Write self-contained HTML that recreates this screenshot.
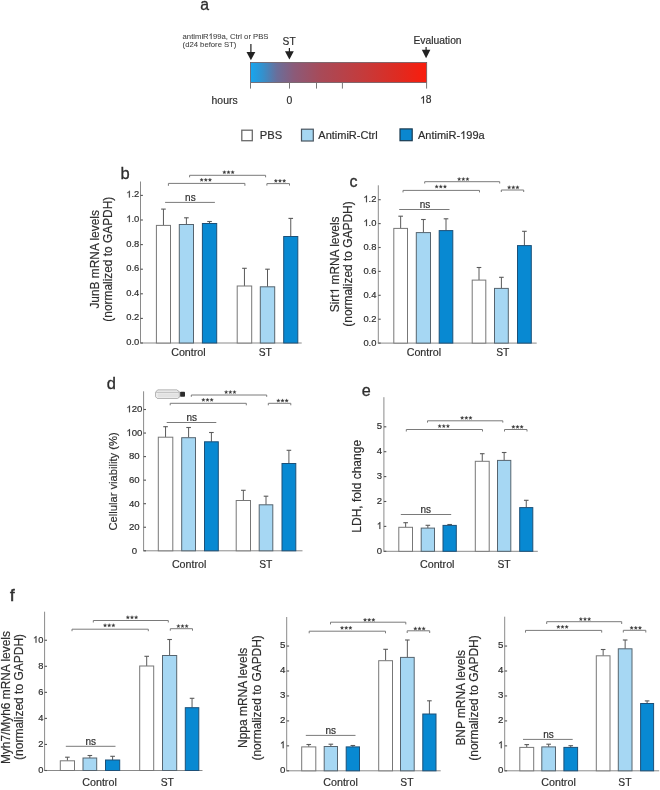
<!DOCTYPE html>
<html><head><meta charset="utf-8"><style>
html,body{margin:0;padding:0;background:#fff;}
svg{display:block;font-family:"Liberation Sans",sans-serif;filter:blur(0.3px);}
</style></head><body>
<svg width="660" height="790" viewBox="0 0 660 790">
<rect width="660" height="790" fill="#fff"/>
<text x="200.20" y="9.85" text-anchor="start" stroke="#2e2e2e" stroke-width="0.3" font-size="15.8" fill="#2e2e2e">a</text>
<g><text id="k1" class="fx" x="182.60" y="39.10" text-anchor="start" stroke="#404040" stroke-width="0.06" font-size="7.7" fill="#404040">antimiR 99a, Ctrl or PBS</text><path transform="translate(208.647,39.100) scale(0.003760,-0.003760)" d="M763 0H583V1147Q518 1085 412.5 1023T223 930V1104Q374 1175 487 1276T647 1472H763V0Z" fill="#404040" stroke="#404040" stroke-width="47.9"/></g>
<text x="182.60" y="47.10" text-anchor="start" stroke="#404040" stroke-width="0.06" font-size="7.7" fill="#404040">(d24 before ST)</text>
<text x="282.60" y="44.60" text-anchor="start" stroke="#2e2e2e" stroke-width="0.18" font-size="10.2" fill="#2e2e2e">ST</text>
<text x="413.50" y="43.80" text-anchor="start" stroke="#2e2e2e" stroke-width="0.18" font-size="10.3" fill="#2e2e2e">Evaluation</text>
<defs><linearGradient id="g" x1="0" x2="1" y1="0" y2="0"><stop offset="0" stop-color="#16a6f0"/><stop offset="0.07" stop-color="#3590cc"/><stop offset="0.15" stop-color="#6a6e9a"/><stop offset="0.25" stop-color="#8c5a78"/><stop offset="0.4" stop-color="#a84a58"/><stop offset="0.65" stop-color="#c63a3a"/><stop offset="0.85" stop-color="#e02a20"/><stop offset="1" stop-color="#fa1c0c"/></linearGradient></defs>
<rect x="250.5" y="62.5" width="176.2" height="20" fill="url(#g)" stroke="#6a5a60" stroke-width="0.8"/>
<line x1="250.90" y1="44.00" x2="250.90" y2="53.00" stroke="#222" stroke-width="1.2"/>
<path d="M246.50,52.00L255.30,52.00L250.90,60.30Z" fill="#222"/>
<line x1="289.40" y1="48.00" x2="289.40" y2="52.20" stroke="#222" stroke-width="1.2"/>
<path d="M285.00,51.20L293.80,51.20L289.40,59.40Z" fill="#222"/>
<line x1="426.10" y1="47.00" x2="426.10" y2="50.80" stroke="#222" stroke-width="1.2"/>
<path d="M421.80,49.80L430.40,49.80L426.10,58.30Z" fill="#222"/>
<line x1="250.50" y1="82.70" x2="250.50" y2="88.60" stroke="#777" stroke-width="1"/>
<line x1="289.50" y1="82.70" x2="289.50" y2="88.60" stroke="#777" stroke-width="1"/>
<line x1="316.50" y1="82.70" x2="316.50" y2="88.60" stroke="#777" stroke-width="1"/>
<line x1="342.40" y1="82.70" x2="342.40" y2="88.60" stroke="#777" stroke-width="1"/>
<line x1="426.60" y1="82.70" x2="426.60" y2="88.60" stroke="#777" stroke-width="1"/>
<text x="211.60" y="103.50" text-anchor="start" stroke="#2e2e2e" stroke-width="0.18" font-size="10.4" fill="#2e2e2e">hours</text>
<text x="286.50" y="104.00" text-anchor="start" stroke="#2e2e2e" stroke-width="0.18" font-size="10.4" fill="#2e2e2e">0</text>
<g><text id="k2" class="fx" x="420.10" y="103.40" text-anchor="start" stroke="#2e2e2e" stroke-width="0.18" font-size="10.3" fill="#2e2e2e"> 8</text><path transform="translate(420.100,103.400) scale(0.005029,-0.005029)" d="M763 0H583V1147Q518 1085 412.5 1023T223 930V1104Q374 1175 487 1276T647 1472H763V0Z" fill="#2e2e2e" stroke="#2e2e2e" stroke-width="35.8"/></g>
<rect x="241.8" y="130.2" width="10.5" height="10.5" fill="#fff" stroke="#6a6a6a" stroke-width="1.3"/>
<text x="259.80" y="138.90" text-anchor="start" stroke="#2e2e2e" stroke-width="0.18" font-size="11.2" fill="#2e2e2e">PBS</text>
<rect x="301.5" y="129.2" width="11.8" height="11.8" fill="#a6d7f2" stroke="#4a5560" stroke-width="1.2"/>
<text x="318.30" y="138.90" text-anchor="start" stroke="#2e2e2e" stroke-width="0.18" font-size="11.0" fill="#2e2e2e">AntimiR-Ctrl</text>
<rect x="400.0" y="128.9" width="12.2" height="11.8" fill="#0a87cf" stroke="#1a3a50" stroke-width="1.2"/>
<g><text id="k3" class="fx" x="418.00" y="138.90" text-anchor="start" stroke="#2e2e2e" stroke-width="0.18" font-size="11.0" fill="#2e2e2e">AntimiR- 99a</text><path transform="translate(460.156,138.900) scale(0.005371,-0.005371)" d="M763 0H583V1147Q518 1085 412.5 1023T223 930V1104Q374 1175 487 1276T647 1472H763V0Z" fill="#2e2e2e" stroke="#2e2e2e" stroke-width="33.5"/></g>
<line x1="140.50" y1="181.50" x2="140.50" y2="343.00" stroke="#8a8a8a" stroke-width="1"/>
<line x1="140.00" y1="343.00" x2="301.70" y2="343.00" stroke="#8a8a8a" stroke-width="1"/>
<line x1="140.50" y1="343.00" x2="142.90" y2="343.00" stroke="#555555" stroke-width="1.1"/>
<text transform="translate(139.30,345.09) scale(1.0,1)" x="0" y="0" text-anchor="end" stroke="#2e2e2e" stroke-width="0.18" font-size="9.4" fill="#2e2e2e">0.0</text>
<line x1="140.50" y1="318.40" x2="142.90" y2="318.40" stroke="#555555" stroke-width="1.1"/>
<text transform="translate(139.30,320.49) scale(1.0,1)" x="0" y="0" text-anchor="end" stroke="#2e2e2e" stroke-width="0.18" font-size="9.4" fill="#2e2e2e">0.2</text>
<line x1="140.50" y1="293.80" x2="142.90" y2="293.80" stroke="#555555" stroke-width="1.1"/>
<text transform="translate(139.30,295.89) scale(1.0,1)" x="0" y="0" text-anchor="end" stroke="#2e2e2e" stroke-width="0.18" font-size="9.4" fill="#2e2e2e">0.4</text>
<line x1="140.50" y1="269.20" x2="142.90" y2="269.20" stroke="#555555" stroke-width="1.1"/>
<text transform="translate(139.30,271.29) scale(1.0,1)" x="0" y="0" text-anchor="end" stroke="#2e2e2e" stroke-width="0.18" font-size="9.4" fill="#2e2e2e">0.6</text>
<line x1="140.50" y1="244.60" x2="142.90" y2="244.60" stroke="#555555" stroke-width="1.1"/>
<text transform="translate(139.30,246.69) scale(1.0,1)" x="0" y="0" text-anchor="end" stroke="#2e2e2e" stroke-width="0.18" font-size="9.4" fill="#2e2e2e">0.8</text>
<line x1="140.50" y1="220.00" x2="142.90" y2="220.00" stroke="#555555" stroke-width="1.1"/>
<g transform="translate(139.30,222.09) scale(1.0,1)"><text id="k4" class="fx" x="0" y="0" text-anchor="end" stroke="#2e2e2e" stroke-width="0.18" font-size="9.4" fill="#2e2e2e"> .0</text><path transform="translate(-13.047,0.000) scale(0.004590,-0.004590)" d="M763 0H583V1147Q518 1085 412.5 1023T223 930V1104Q374 1175 487 1276T647 1472H763V0Z" fill="#2e2e2e" stroke="#2e2e2e" stroke-width="39.2"/></g>
<line x1="140.50" y1="195.40" x2="142.90" y2="195.40" stroke="#555555" stroke-width="1.1"/>
<g transform="translate(139.30,197.49) scale(1.0,1)"><text id="k5" class="fx" x="0" y="0" text-anchor="end" stroke="#2e2e2e" stroke-width="0.18" font-size="9.4" fill="#2e2e2e"> .2</text><path transform="translate(-13.047,0.000) scale(0.004590,-0.004590)" d="M763 0H583V1147Q518 1085 412.5 1023T223 930V1104Q374 1175 487 1276T647 1472H763V0Z" fill="#2e2e2e" stroke="#2e2e2e" stroke-width="39.2"/></g>
<line x1="163.45" y1="225.40" x2="163.45" y2="209.10" stroke="#5a5a5a" stroke-width="1"/>
<line x1="161.15" y1="209.10" x2="165.75" y2="209.10" stroke="#5a5a5a" stroke-width="1.1"/>
<rect x="156.40" y="225.40" width="14.10" height="117.60" fill="#ffffff" stroke="#777777" stroke-width="1"/>
<line x1="186.40" y1="224.50" x2="186.40" y2="217.80" stroke="#5a5a5a" stroke-width="1"/>
<line x1="184.10" y1="217.80" x2="188.70" y2="217.80" stroke="#5a5a5a" stroke-width="1.1"/>
<rect x="179.30" y="224.50" width="14.20" height="118.50" fill="#a6d7f3" stroke="#56646f" stroke-width="1"/>
<line x1="209.55" y1="223.50" x2="209.55" y2="221.50" stroke="#5a5a5a" stroke-width="1"/>
<line x1="207.25" y1="221.50" x2="211.85" y2="221.50" stroke="#5a5a5a" stroke-width="1.1"/>
<rect x="202.40" y="223.50" width="14.30" height="119.50" fill="#0889d2" stroke="#1c5078" stroke-width="1"/>
<line x1="244.45" y1="286.00" x2="244.45" y2="268.30" stroke="#5a5a5a" stroke-width="1"/>
<line x1="242.15" y1="268.30" x2="246.75" y2="268.30" stroke="#5a5a5a" stroke-width="1.1"/>
<rect x="237.20" y="286.00" width="14.50" height="57.00" fill="#ffffff" stroke="#777777" stroke-width="1"/>
<line x1="267.50" y1="286.80" x2="267.50" y2="269.20" stroke="#5a5a5a" stroke-width="1"/>
<line x1="265.20" y1="269.20" x2="269.80" y2="269.20" stroke="#5a5a5a" stroke-width="1.1"/>
<rect x="260.30" y="286.80" width="14.40" height="56.20" fill="#a6d7f3" stroke="#56646f" stroke-width="1"/>
<line x1="290.75" y1="236.50" x2="290.75" y2="218.40" stroke="#5a5a5a" stroke-width="1"/>
<line x1="288.45" y1="218.40" x2="293.05" y2="218.40" stroke="#5a5a5a" stroke-width="1.1"/>
<rect x="283.70" y="236.50" width="14.10" height="106.50" fill="#0889d2" stroke="#1c5078" stroke-width="1"/>
<path d="M189.60,177.30V175.30H265.60V177.30" fill="none" stroke="#7a7a7a" stroke-width="1"/>
<path d="M224.35,170.40L224.87,171.59L226.16,171.71L225.19,172.57L225.47,173.84L224.35,173.18L223.23,173.84L223.51,172.57L222.54,171.71L223.83,171.59ZM228.50,170.40L229.02,171.59L230.31,171.71L229.34,172.57L229.62,173.84L228.50,173.18L227.38,173.84L227.66,172.57L226.69,171.71L227.98,171.59ZM232.65,170.40L233.17,171.59L234.46,171.71L233.49,172.57L233.77,173.84L232.65,173.18L231.53,173.84L231.81,172.57L230.84,171.71L232.13,171.59Z" fill="#3a3a3a" stroke="#3a3a3a" stroke-width="0.2" stroke-linejoin="round"/>
<path d="M168.40,185.80V183.40H244.90V185.80" fill="none" stroke="#7a7a7a" stroke-width="1"/>
<path d="M201.65,178.00L202.17,179.19L203.46,179.31L202.49,180.17L202.77,181.44L201.65,180.78L200.53,181.44L200.81,180.17L199.84,179.31L201.13,179.19ZM205.80,178.00L206.32,179.19L207.61,179.31L206.64,180.17L206.92,181.44L205.80,180.78L204.68,181.44L204.96,180.17L203.99,179.31L205.28,179.19ZM209.95,178.00L210.47,179.19L211.76,179.31L210.79,180.17L211.07,181.44L209.95,180.78L208.83,181.44L209.11,180.17L208.14,179.31L209.43,179.19Z" fill="#3a3a3a" stroke="#3a3a3a" stroke-width="0.2" stroke-linejoin="round"/>
<path d="M266.90,185.60V183.60H289.50V185.60" fill="none" stroke="#7a7a7a" stroke-width="1"/>
<path d="M275.85,179.00L276.37,180.19L277.66,180.31L276.69,181.17L276.97,182.44L275.85,181.78L274.73,182.44L275.01,181.17L274.04,180.31L275.33,180.19ZM280.00,179.00L280.52,180.19L281.81,180.31L280.84,181.17L281.12,182.44L280.00,181.78L278.88,182.44L279.16,181.17L278.19,180.31L279.48,180.19ZM284.15,179.00L284.67,180.19L285.96,180.31L284.99,181.17L285.27,182.44L284.15,181.78L283.03,182.44L283.31,181.17L282.34,180.31L283.63,180.19Z" fill="#3a3a3a" stroke="#3a3a3a" stroke-width="0.2" stroke-linejoin="round"/>
<line x1="165.10" y1="202.40" x2="214.90" y2="202.40" stroke="#7a7a7a" stroke-width="1"/>
<text x="190.40" y="200.70" text-anchor="middle" stroke="#2e2e2e" stroke-width="0.18" font-size="10" fill="#2e2e2e">ns</text>
<text x="171.20" y="355.80" text-anchor="start" stroke="#2e2e2e" stroke-width="0.18" font-size="10.7" fill="#2e2e2e">Control</text>
<text x="258.70" y="355.80" text-anchor="start" stroke="#2e2e2e" stroke-width="0.18" font-size="10.3" fill="#2e2e2e">ST</text>
<text transform="translate(98.80,259.35) rotate(-90)" text-anchor="middle" stroke="#2e2e2e" stroke-width="0.18" font-size="11.9" fill="#2e2e2e">JunB mRNA levels</text>
<text transform="translate(112.30,259.20) rotate(-90)" text-anchor="middle" stroke="#2e2e2e" stroke-width="0.18" font-size="11.9" fill="#2e2e2e">(normalized to GAPDH)</text>
<text x="120.40" y="178.80" text-anchor="start" stroke="#2e2e2e" stroke-width="0.3" font-size="16.5" fill="#2e2e2e">b</text>
<line x1="378.30" y1="185.30" x2="378.30" y2="343.10" stroke="#8a8a8a" stroke-width="1"/>
<line x1="377.80" y1="343.10" x2="536.70" y2="343.10" stroke="#8a8a8a" stroke-width="1"/>
<line x1="378.30" y1="343.10" x2="380.70" y2="343.10" stroke="#555555" stroke-width="1.1"/>
<text transform="translate(376.45,345.59) scale(1.0,1)" x="0" y="0" text-anchor="end" stroke="#2e2e2e" stroke-width="0.18" font-size="9.4" fill="#2e2e2e">0.0</text>
<line x1="378.30" y1="319.20" x2="380.70" y2="319.20" stroke="#555555" stroke-width="1.1"/>
<text transform="translate(376.45,321.69) scale(1.0,1)" x="0" y="0" text-anchor="end" stroke="#2e2e2e" stroke-width="0.18" font-size="9.4" fill="#2e2e2e">0.2</text>
<line x1="378.30" y1="295.30" x2="380.70" y2="295.30" stroke="#555555" stroke-width="1.1"/>
<text transform="translate(376.45,297.79) scale(1.0,1)" x="0" y="0" text-anchor="end" stroke="#2e2e2e" stroke-width="0.18" font-size="9.4" fill="#2e2e2e">0.4</text>
<line x1="378.30" y1="271.40" x2="380.70" y2="271.40" stroke="#555555" stroke-width="1.1"/>
<text transform="translate(376.45,273.89) scale(1.0,1)" x="0" y="0" text-anchor="end" stroke="#2e2e2e" stroke-width="0.18" font-size="9.4" fill="#2e2e2e">0.6</text>
<line x1="378.30" y1="247.50" x2="380.70" y2="247.50" stroke="#555555" stroke-width="1.1"/>
<text transform="translate(376.45,249.99) scale(1.0,1)" x="0" y="0" text-anchor="end" stroke="#2e2e2e" stroke-width="0.18" font-size="9.4" fill="#2e2e2e">0.8</text>
<line x1="378.30" y1="223.60" x2="380.70" y2="223.60" stroke="#555555" stroke-width="1.1"/>
<g transform="translate(376.45,226.09) scale(1.0,1)"><text id="k6" class="fx" x="0" y="0" text-anchor="end" stroke="#2e2e2e" stroke-width="0.18" font-size="9.4" fill="#2e2e2e"> .0</text><path transform="translate(-13.047,0.000) scale(0.004590,-0.004590)" d="M763 0H583V1147Q518 1085 412.5 1023T223 930V1104Q374 1175 487 1276T647 1472H763V0Z" fill="#2e2e2e" stroke="#2e2e2e" stroke-width="39.2"/></g>
<line x1="378.30" y1="199.70" x2="380.70" y2="199.70" stroke="#555555" stroke-width="1.1"/>
<g transform="translate(376.45,202.19) scale(1.0,1)"><text id="k7" class="fx" x="0" y="0" text-anchor="end" stroke="#2e2e2e" stroke-width="0.18" font-size="9.4" fill="#2e2e2e"> .2</text><path transform="translate(-13.047,0.000) scale(0.004590,-0.004590)" d="M763 0H583V1147Q518 1085 412.5 1023T223 930V1104Q374 1175 487 1276T647 1472H763V0Z" fill="#2e2e2e" stroke="#2e2e2e" stroke-width="39.2"/></g>
<line x1="400.65" y1="228.40" x2="400.65" y2="216.20" stroke="#5a5a5a" stroke-width="1"/>
<line x1="398.35" y1="216.20" x2="402.95" y2="216.20" stroke="#5a5a5a" stroke-width="1.1"/>
<rect x="393.80" y="228.40" width="13.70" height="114.70" fill="#ffffff" stroke="#777777" stroke-width="1"/>
<line x1="423.40" y1="232.60" x2="423.40" y2="219.50" stroke="#5a5a5a" stroke-width="1"/>
<line x1="421.10" y1="219.50" x2="425.70" y2="219.50" stroke="#5a5a5a" stroke-width="1.1"/>
<rect x="416.30" y="232.60" width="14.20" height="110.50" fill="#a6d7f3" stroke="#56646f" stroke-width="1"/>
<line x1="446.00" y1="230.60" x2="446.00" y2="218.80" stroke="#5a5a5a" stroke-width="1"/>
<line x1="443.70" y1="218.80" x2="448.30" y2="218.80" stroke="#5a5a5a" stroke-width="1.1"/>
<rect x="439.20" y="230.60" width="13.60" height="112.50" fill="#0889d2" stroke="#1c5078" stroke-width="1"/>
<line x1="479.00" y1="280.10" x2="479.00" y2="267.50" stroke="#5a5a5a" stroke-width="1"/>
<line x1="476.70" y1="267.50" x2="481.30" y2="267.50" stroke="#5a5a5a" stroke-width="1.1"/>
<rect x="472.20" y="280.10" width="13.60" height="63.00" fill="#ffffff" stroke="#777777" stroke-width="1"/>
<line x1="501.40" y1="288.40" x2="501.40" y2="277.30" stroke="#5a5a5a" stroke-width="1"/>
<line x1="499.10" y1="277.30" x2="503.70" y2="277.30" stroke="#5a5a5a" stroke-width="1.1"/>
<rect x="494.50" y="288.40" width="13.80" height="54.70" fill="#a6d7f3" stroke="#56646f" stroke-width="1"/>
<line x1="524.40" y1="245.60" x2="524.40" y2="231.30" stroke="#5a5a5a" stroke-width="1"/>
<line x1="522.10" y1="231.30" x2="526.70" y2="231.30" stroke="#5a5a5a" stroke-width="1.1"/>
<rect x="517.50" y="245.60" width="13.80" height="97.50" fill="#0889d2" stroke="#1c5078" stroke-width="1"/>
<path d="M424.70,183.50V181.70H499.70V183.50" fill="none" stroke="#7a7a7a" stroke-width="1"/>
<path d="M459.15,177.20L459.67,178.39L460.96,178.51L459.99,179.37L460.27,180.64L459.15,179.98L458.03,180.64L458.31,179.37L457.34,178.51L458.63,178.39ZM463.30,177.20L463.82,178.39L465.11,178.51L464.14,179.37L464.42,180.64L463.30,179.98L462.18,180.64L462.46,179.37L461.49,178.51L462.78,178.39ZM467.45,177.20L467.97,178.39L469.26,178.51L468.29,179.37L468.57,180.64L467.45,179.98L466.33,180.64L466.61,179.37L465.64,178.51L466.93,178.39Z" fill="#3a3a3a" stroke="#3a3a3a" stroke-width="0.2" stroke-linejoin="round"/>
<path d="M403.00,192.40V190.40H479.50V192.40" fill="none" stroke="#7a7a7a" stroke-width="1"/>
<path d="M436.65,184.70L437.17,185.89L438.46,186.01L437.49,186.87L437.77,188.14L436.65,187.48L435.53,188.14L435.81,186.87L434.84,186.01L436.13,185.89ZM440.80,184.70L441.32,185.89L442.61,186.01L441.64,186.87L441.92,188.14L440.80,187.48L439.68,188.14L439.96,186.87L438.99,186.01L440.28,185.89ZM444.95,184.70L445.47,185.89L446.76,186.01L445.79,186.87L446.07,188.14L444.95,187.48L443.83,188.14L444.11,186.87L443.14,186.01L444.43,185.89Z" fill="#3a3a3a" stroke="#3a3a3a" stroke-width="0.2" stroke-linejoin="round"/>
<path d="M501.30,192.00V190.00H523.70V192.00" fill="none" stroke="#7a7a7a" stroke-width="1"/>
<path d="M509.15,185.50L509.67,186.69L510.96,186.81L509.99,187.67L510.27,188.94L509.15,188.28L508.03,188.94L508.31,187.67L507.34,186.81L508.63,186.69ZM513.30,185.50L513.82,186.69L515.11,186.81L514.14,187.67L514.42,188.94L513.30,188.28L512.18,188.94L512.46,187.67L511.49,186.81L512.78,186.69ZM517.45,185.50L517.97,186.69L519.26,186.81L518.29,187.67L518.57,188.94L517.45,188.28L516.33,188.94L516.61,187.67L515.64,186.81L516.93,186.69Z" fill="#3a3a3a" stroke="#3a3a3a" stroke-width="0.2" stroke-linejoin="round"/>
<line x1="399.20" y1="209.50" x2="449.50" y2="209.50" stroke="#7a7a7a" stroke-width="1"/>
<text x="425.00" y="207.80" text-anchor="middle" stroke="#2e2e2e" stroke-width="0.18" font-size="10" fill="#2e2e2e">ns</text>
<text x="406.70" y="356.20" text-anchor="start" stroke="#2e2e2e" stroke-width="0.18" font-size="10.7" fill="#2e2e2e">Control</text>
<text x="496.20" y="355.80" text-anchor="start" stroke="#2e2e2e" stroke-width="0.18" font-size="10.3" fill="#2e2e2e">ST</text>
<g transform="translate(338.80,264.35) rotate(-90)"><text id="k8" class="fx" text-anchor="middle" stroke="#2e2e2e" stroke-width="0.18" font-size="11.9" fill="#2e2e2e">Sirt  mRNA levels</text><path transform="translate(-30.078,0.000) scale(0.005811,-0.005811)" d="M763 0H583V1147Q518 1085 412.5 1023T223 930V1104Q374 1175 487 1276T647 1472H763V0Z" fill="#2e2e2e" stroke="#2e2e2e" stroke-width="31.0"/></g>
<text transform="translate(352.20,264.00) rotate(-90)" text-anchor="middle" stroke="#2e2e2e" stroke-width="0.18" font-size="11.95" fill="#2e2e2e">(normalized to GAPDH)</text>
<text x="349.40" y="186.80" text-anchor="start" stroke="#2e2e2e" stroke-width="0.3" font-size="16" fill="#2e2e2e">c</text>
<line x1="143.60" y1="391.30" x2="143.60" y2="550.80" stroke="#8a8a8a" stroke-width="1"/>
<line x1="143.10" y1="550.80" x2="302.50" y2="550.80" stroke="#8a8a8a" stroke-width="1"/>
<line x1="143.60" y1="550.80" x2="146.00" y2="550.80" stroke="#555555" stroke-width="1.1"/>
<text transform="translate(134.30,553.66) scale(1.0,1)" x="0" y="0" text-anchor="middle" stroke="#2e2e2e" stroke-width="0.18" font-size="9.6" fill="#2e2e2e">0</text>
<line x1="143.60" y1="527.25" x2="146.00" y2="527.25" stroke="#555555" stroke-width="1.1"/>
<text transform="translate(134.30,530.11) scale(1.0,1)" x="0" y="0" text-anchor="middle" stroke="#2e2e2e" stroke-width="0.18" font-size="9.6" fill="#2e2e2e">20</text>
<line x1="143.60" y1="503.70" x2="146.00" y2="503.70" stroke="#555555" stroke-width="1.1"/>
<text transform="translate(134.30,506.56) scale(1.0,1)" x="0" y="0" text-anchor="middle" stroke="#2e2e2e" stroke-width="0.18" font-size="9.6" fill="#2e2e2e">40</text>
<line x1="143.60" y1="480.15" x2="146.00" y2="480.15" stroke="#555555" stroke-width="1.1"/>
<text transform="translate(134.30,483.01) scale(1.0,1)" x="0" y="0" text-anchor="middle" stroke="#2e2e2e" stroke-width="0.18" font-size="9.6" fill="#2e2e2e">60</text>
<line x1="143.60" y1="456.60" x2="146.00" y2="456.60" stroke="#555555" stroke-width="1.1"/>
<text transform="translate(134.30,459.46) scale(1.0,1)" x="0" y="0" text-anchor="middle" stroke="#2e2e2e" stroke-width="0.18" font-size="9.6" fill="#2e2e2e">80</text>
<line x1="143.60" y1="433.05" x2="146.00" y2="433.05" stroke="#555555" stroke-width="1.1"/>
<g transform="translate(134.30,435.91) scale(1.0,1)"><text id="k9" class="fx" x="0" y="0" text-anchor="middle" stroke="#2e2e2e" stroke-width="0.18" font-size="9.6" fill="#2e2e2e"> 00</text><path transform="translate(-8.008,0.000) scale(0.004687,-0.004687)" d="M763 0H583V1147Q518 1085 412.5 1023T223 930V1104Q374 1175 487 1276T647 1472H763V0Z" fill="#2e2e2e" stroke="#2e2e2e" stroke-width="38.4"/></g>
<line x1="143.60" y1="409.50" x2="146.00" y2="409.50" stroke="#555555" stroke-width="1.1"/>
<g transform="translate(134.30,412.36) scale(1.0,1)"><text id="k10" class="fx" x="0" y="0" text-anchor="middle" stroke="#2e2e2e" stroke-width="0.18" font-size="9.6" fill="#2e2e2e"> 20</text><path transform="translate(-8.008,0.000) scale(0.004687,-0.004687)" d="M763 0H583V1147Q518 1085 412.5 1023T223 930V1104Q374 1175 487 1276T647 1472H763V0Z" fill="#2e2e2e" stroke="#2e2e2e" stroke-width="38.4"/></g>
<line x1="165.55" y1="437.20" x2="165.55" y2="426.70" stroke="#5a5a5a" stroke-width="1"/>
<line x1="163.25" y1="426.70" x2="167.85" y2="426.70" stroke="#5a5a5a" stroke-width="1.1"/>
<rect x="158.30" y="437.20" width="14.50" height="113.60" fill="#ffffff" stroke="#777777" stroke-width="1"/>
<line x1="188.60" y1="437.70" x2="188.60" y2="427.50" stroke="#5a5a5a" stroke-width="1"/>
<line x1="186.30" y1="427.50" x2="190.90" y2="427.50" stroke="#5a5a5a" stroke-width="1.1"/>
<rect x="181.70" y="437.70" width="13.80" height="113.10" fill="#a6d7f3" stroke="#56646f" stroke-width="1"/>
<line x1="211.40" y1="441.80" x2="211.40" y2="432.50" stroke="#5a5a5a" stroke-width="1"/>
<line x1="209.10" y1="432.50" x2="213.70" y2="432.50" stroke="#5a5a5a" stroke-width="1.1"/>
<rect x="204.50" y="441.80" width="13.80" height="109.00" fill="#0889d2" stroke="#1c5078" stroke-width="1"/>
<line x1="243.35" y1="500.50" x2="243.35" y2="490.30" stroke="#5a5a5a" stroke-width="1"/>
<line x1="241.05" y1="490.30" x2="245.65" y2="490.30" stroke="#5a5a5a" stroke-width="1.1"/>
<rect x="236.20" y="500.50" width="14.30" height="50.30" fill="#ffffff" stroke="#777777" stroke-width="1"/>
<line x1="266.00" y1="504.80" x2="266.00" y2="496.20" stroke="#5a5a5a" stroke-width="1"/>
<line x1="263.70" y1="496.20" x2="268.30" y2="496.20" stroke="#5a5a5a" stroke-width="1.1"/>
<rect x="259.20" y="504.80" width="13.60" height="46.00" fill="#a6d7f3" stroke="#56646f" stroke-width="1"/>
<line x1="288.90" y1="463.50" x2="288.90" y2="450.30" stroke="#5a5a5a" stroke-width="1"/>
<line x1="286.60" y1="450.30" x2="291.20" y2="450.30" stroke="#5a5a5a" stroke-width="1.1"/>
<rect x="282.00" y="463.50" width="13.80" height="87.30" fill="#0889d2" stroke="#1c5078" stroke-width="1"/>
<path d="M191.30,396.80V395.00H266.70V396.80" fill="none" stroke="#7a7a7a" stroke-width="1"/>
<path d="M226.15,390.20L226.67,391.39L227.96,391.51L226.99,392.37L227.27,393.64L226.15,392.98L225.03,393.64L225.31,392.37L224.34,391.51L225.63,391.39ZM230.30,390.20L230.82,391.39L232.11,391.51L231.14,392.37L231.42,393.64L230.30,392.98L229.18,393.64L229.46,392.37L228.49,391.51L229.78,391.39ZM234.45,390.20L234.97,391.39L236.26,391.51L235.29,392.37L235.57,393.64L234.45,392.98L233.33,393.64L233.61,392.37L232.64,391.51L233.93,391.39Z" fill="#3a3a3a" stroke="#3a3a3a" stroke-width="0.2" stroke-linejoin="round"/>
<path d="M170.20,405.30V403.30H246.30V405.30" fill="none" stroke="#7a7a7a" stroke-width="1"/>
<path d="M203.35,398.00L203.87,399.19L205.16,399.31L204.19,400.17L204.47,401.44L203.35,400.78L202.23,401.44L202.51,400.17L201.54,399.31L202.83,399.19ZM207.50,398.00L208.02,399.19L209.31,399.31L208.34,400.17L208.62,401.44L207.50,400.78L206.38,401.44L206.66,400.17L205.69,399.31L206.98,399.19ZM211.65,398.00L212.17,399.19L213.46,399.31L212.49,400.17L212.77,401.44L211.65,400.78L210.53,401.44L210.81,400.17L209.84,399.31L211.13,399.19Z" fill="#3a3a3a" stroke="#3a3a3a" stroke-width="0.2" stroke-linejoin="round"/>
<path d="M268.30,405.30V403.30H290.80V405.30" fill="none" stroke="#7a7a7a" stroke-width="1"/>
<path d="M278.35,398.80L278.87,399.99L280.16,400.11L279.19,400.97L279.47,402.24L278.35,401.58L277.23,402.24L277.51,400.97L276.54,400.11L277.83,399.99ZM282.50,398.80L283.02,399.99L284.31,400.11L283.34,400.97L283.62,402.24L282.50,401.58L281.38,402.24L281.66,400.97L280.69,400.11L281.98,399.99ZM286.65,398.80L287.17,399.99L288.46,400.11L287.49,400.97L287.77,402.24L286.65,401.58L285.53,402.24L285.81,400.97L284.84,400.11L286.13,399.99Z" fill="#3a3a3a" stroke="#3a3a3a" stroke-width="0.2" stroke-linejoin="round"/>
<line x1="166.70" y1="422.50" x2="216.30" y2="422.50" stroke="#7a7a7a" stroke-width="1"/>
<text x="191.70" y="420.80" text-anchor="middle" stroke="#2e2e2e" stroke-width="0.18" font-size="10" fill="#2e2e2e">ns</text>
<text x="171.90" y="567.50" text-anchor="start" stroke="#2e2e2e" stroke-width="0.18" font-size="10.7" fill="#2e2e2e">Control</text>
<text x="259.20" y="567.50" text-anchor="start" stroke="#2e2e2e" stroke-width="0.18" font-size="10.3" fill="#2e2e2e">ST</text>
<text transform="translate(116.60,481.40) rotate(-90)" text-anchor="middle" stroke="#2e2e2e" stroke-width="0.18" font-size="11.2" fill="#2e2e2e">Cellular viability (%)</text>
<text x="106.70" y="388.90" text-anchor="start" stroke="#2e2e2e" stroke-width="0.3" font-size="16.5" fill="#2e2e2e">d</text>
<line x1="383.90" y1="397.20" x2="383.90" y2="551.30" stroke="#8a8a8a" stroke-width="1"/>
<line x1="383.40" y1="551.30" x2="537.80" y2="551.30" stroke="#8a8a8a" stroke-width="1"/>
<line x1="383.90" y1="551.30" x2="386.30" y2="551.30" stroke="#555555" stroke-width="1.1"/>
<text transform="translate(382.05,553.83) scale(1.0,1)" x="0" y="0" text-anchor="end" stroke="#2e2e2e" stroke-width="0.18" font-size="9.5" fill="#2e2e2e">0</text>
<line x1="383.90" y1="526.40" x2="386.30" y2="526.40" stroke="#555555" stroke-width="1.1"/>
<g transform="translate(382.05,528.93) scale(1.0,1)"><text id="k11" class="fx" x="0" y="0" text-anchor="end" stroke="#2e2e2e" stroke-width="0.18" font-size="9.5" fill="#2e2e2e"> </text><path transform="translate(-5.297,0.000) scale(0.004639,-0.004639)" d="M763 0H583V1147Q518 1085 412.5 1023T223 930V1104Q374 1175 487 1276T647 1472H763V0Z" fill="#2e2e2e" stroke="#2e2e2e" stroke-width="38.8"/></g>
<line x1="383.90" y1="501.50" x2="386.30" y2="501.50" stroke="#555555" stroke-width="1.1"/>
<text transform="translate(382.05,504.02) scale(1.0,1)" x="0" y="0" text-anchor="end" stroke="#2e2e2e" stroke-width="0.18" font-size="9.5" fill="#2e2e2e">2</text>
<line x1="383.90" y1="476.60" x2="386.30" y2="476.60" stroke="#555555" stroke-width="1.1"/>
<text transform="translate(382.05,479.12) scale(1.0,1)" x="0" y="0" text-anchor="end" stroke="#2e2e2e" stroke-width="0.18" font-size="9.5" fill="#2e2e2e">3</text>
<line x1="383.90" y1="451.70" x2="386.30" y2="451.70" stroke="#555555" stroke-width="1.1"/>
<text transform="translate(382.05,454.22) scale(1.0,1)" x="0" y="0" text-anchor="end" stroke="#2e2e2e" stroke-width="0.18" font-size="9.5" fill="#2e2e2e">4</text>
<line x1="383.90" y1="426.80" x2="386.30" y2="426.80" stroke="#555555" stroke-width="1.1"/>
<text transform="translate(382.05,429.32) scale(1.0,1)" x="0" y="0" text-anchor="end" stroke="#2e2e2e" stroke-width="0.18" font-size="9.5" fill="#2e2e2e">5</text>
<line x1="405.65" y1="527.30" x2="405.65" y2="522.70" stroke="#5a5a5a" stroke-width="1"/>
<line x1="403.35" y1="522.70" x2="407.95" y2="522.70" stroke="#5a5a5a" stroke-width="1.1"/>
<rect x="398.80" y="527.30" width="13.70" height="24.00" fill="#ffffff" stroke="#777777" stroke-width="1"/>
<line x1="427.85" y1="528.10" x2="427.85" y2="525.30" stroke="#5a5a5a" stroke-width="1"/>
<line x1="425.55" y1="525.30" x2="430.15" y2="525.30" stroke="#5a5a5a" stroke-width="1.1"/>
<rect x="421.20" y="528.10" width="13.30" height="23.20" fill="#a6d7f3" stroke="#56646f" stroke-width="1"/>
<line x1="449.65" y1="525.40" x2="449.65" y2="524.50" stroke="#5a5a5a" stroke-width="1"/>
<line x1="447.35" y1="524.50" x2="451.95" y2="524.50" stroke="#5a5a5a" stroke-width="1.1"/>
<rect x="443.00" y="525.40" width="13.30" height="25.90" fill="#0889d2" stroke="#1c5078" stroke-width="1"/>
<line x1="482.25" y1="461.30" x2="482.25" y2="453.70" stroke="#5a5a5a" stroke-width="1"/>
<line x1="479.95" y1="453.70" x2="484.55" y2="453.70" stroke="#5a5a5a" stroke-width="1.1"/>
<rect x="475.30" y="461.30" width="13.90" height="90.00" fill="#ffffff" stroke="#777777" stroke-width="1"/>
<line x1="504.15" y1="460.40" x2="504.15" y2="452.50" stroke="#5a5a5a" stroke-width="1"/>
<line x1="501.85" y1="452.50" x2="506.45" y2="452.50" stroke="#5a5a5a" stroke-width="1.1"/>
<rect x="497.50" y="460.40" width="13.30" height="90.90" fill="#a6d7f3" stroke="#56646f" stroke-width="1"/>
<line x1="526.25" y1="507.60" x2="526.25" y2="500.30" stroke="#5a5a5a" stroke-width="1"/>
<line x1="523.95" y1="500.30" x2="528.55" y2="500.30" stroke="#5a5a5a" stroke-width="1.1"/>
<rect x="519.70" y="507.60" width="13.10" height="43.70" fill="#0889d2" stroke="#1c5078" stroke-width="1"/>
<path d="M427.50,422.60V420.80H502.80V422.60" fill="none" stroke="#7a7a7a" stroke-width="1"/>
<path d="M462.15,416.00L462.67,417.19L463.96,417.31L462.99,418.17L463.27,419.44L462.15,418.78L461.03,419.44L461.31,418.17L460.34,417.31L461.63,417.19ZM466.30,416.00L466.82,417.19L468.11,417.31L467.14,418.17L467.42,419.44L466.30,418.78L465.18,419.44L465.46,418.17L464.49,417.31L465.78,417.19ZM470.45,416.00L470.97,417.19L472.26,417.31L471.29,418.17L471.57,419.44L470.45,418.78L469.33,419.44L469.61,418.17L468.64,417.31L469.93,417.19Z" fill="#3a3a3a" stroke="#3a3a3a" stroke-width="0.2" stroke-linejoin="round"/>
<path d="M406.30,431.50V429.50H482.50V431.50" fill="none" stroke="#7a7a7a" stroke-width="1"/>
<path d="M439.65,424.20L440.17,425.39L441.46,425.51L440.49,426.37L440.77,427.64L439.65,426.98L438.53,427.64L438.81,426.37L437.84,425.51L439.13,425.39ZM443.80,424.20L444.32,425.39L445.61,425.51L444.64,426.37L444.92,427.64L443.80,426.98L442.68,427.64L442.96,426.37L441.99,425.51L443.28,425.39ZM447.95,424.20L448.47,425.39L449.76,425.51L448.79,426.37L449.07,427.64L447.95,426.98L446.83,427.64L447.11,426.37L446.14,425.51L447.43,425.39Z" fill="#3a3a3a" stroke="#3a3a3a" stroke-width="0.2" stroke-linejoin="round"/>
<path d="M504.50,431.50V429.50H527.00V431.50" fill="none" stroke="#7a7a7a" stroke-width="1"/>
<path d="M513.35,425.00L513.87,426.19L515.16,426.31L514.19,427.17L514.47,428.44L513.35,427.78L512.23,428.44L512.51,427.17L511.54,426.31L512.83,426.19ZM517.50,425.00L518.02,426.19L519.31,426.31L518.34,427.17L518.62,428.44L517.50,427.78L516.38,428.44L516.66,427.17L515.69,426.31L516.98,426.19ZM521.65,425.00L522.17,426.19L523.46,426.31L522.49,427.17L522.77,428.44L521.65,427.78L520.53,428.44L520.81,427.17L519.84,426.31L521.13,426.19Z" fill="#3a3a3a" stroke="#3a3a3a" stroke-width="0.2" stroke-linejoin="round"/>
<line x1="400.80" y1="514.50" x2="451.20" y2="514.50" stroke="#7a7a7a" stroke-width="1"/>
<text x="425.80" y="512.80" text-anchor="middle" stroke="#2e2e2e" stroke-width="0.18" font-size="10" fill="#2e2e2e">ns</text>
<text x="420.00" y="567.50" text-anchor="start" stroke="#2e2e2e" stroke-width="0.18" font-size="10.7" fill="#2e2e2e">Control</text>
<text x="497.50" y="567.50" text-anchor="start" stroke="#2e2e2e" stroke-width="0.18" font-size="10.3" fill="#2e2e2e">ST</text>
<text transform="translate(361.10,486.30) rotate(-90)" text-anchor="middle" stroke="#2e2e2e" stroke-width="0.18" font-size="12.0" fill="#2e2e2e">LDH, fold change</text>
<text x="361.75" y="395.80" text-anchor="start" stroke="#2e2e2e" stroke-width="0.3" font-size="16.2" fill="#2e2e2e">e</text>
<line x1="44.60" y1="611.70" x2="44.60" y2="770.50" stroke="#8a8a8a" stroke-width="1"/>
<line x1="44.10" y1="770.50" x2="202.50" y2="770.50" stroke="#8a8a8a" stroke-width="1"/>
<line x1="44.60" y1="770.50" x2="47.00" y2="770.50" stroke="#555555" stroke-width="1.1"/>
<text transform="translate(43.30,772.96) scale(1.0,1)" x="0" y="0" text-anchor="end" stroke="#2e2e2e" stroke-width="0.18" font-size="9.3" fill="#2e2e2e">0</text>
<line x1="44.60" y1="744.45" x2="47.00" y2="744.45" stroke="#555555" stroke-width="1.1"/>
<text transform="translate(43.30,746.91) scale(1.0,1)" x="0" y="0" text-anchor="end" stroke="#2e2e2e" stroke-width="0.18" font-size="9.3" fill="#2e2e2e">2</text>
<line x1="44.60" y1="718.40" x2="47.00" y2="718.40" stroke="#555555" stroke-width="1.1"/>
<text transform="translate(43.30,720.86) scale(1.0,1)" x="0" y="0" text-anchor="end" stroke="#2e2e2e" stroke-width="0.18" font-size="9.3" fill="#2e2e2e">4</text>
<line x1="44.60" y1="692.35" x2="47.00" y2="692.35" stroke="#555555" stroke-width="1.1"/>
<text transform="translate(43.30,694.81) scale(1.0,1)" x="0" y="0" text-anchor="end" stroke="#2e2e2e" stroke-width="0.18" font-size="9.3" fill="#2e2e2e">6</text>
<line x1="44.60" y1="666.30" x2="47.00" y2="666.30" stroke="#555555" stroke-width="1.1"/>
<text transform="translate(43.30,668.75) scale(1.0,1)" x="0" y="0" text-anchor="end" stroke="#2e2e2e" stroke-width="0.18" font-size="9.3" fill="#2e2e2e">8</text>
<line x1="44.60" y1="640.25" x2="47.00" y2="640.25" stroke="#555555" stroke-width="1.1"/>
<g transform="translate(43.30,642.71) scale(1.0,1)"><text id="k12" class="fx" x="0" y="0" text-anchor="end" stroke="#2e2e2e" stroke-width="0.18" font-size="9.3" fill="#2e2e2e"> 0</text><path transform="translate(-10.344,0.000) scale(0.004541,-0.004541)" d="M763 0H583V1147Q518 1085 412.5 1023T223 930V1104Q374 1175 487 1276T647 1472H763V0Z" fill="#2e2e2e" stroke="#2e2e2e" stroke-width="39.6"/></g>
<line x1="67.40" y1="760.80" x2="67.40" y2="757.20" stroke="#5a5a5a" stroke-width="1"/>
<line x1="65.10" y1="757.20" x2="69.70" y2="757.20" stroke="#5a5a5a" stroke-width="1.1"/>
<rect x="60.30" y="760.80" width="14.20" height="9.70" fill="#ffffff" stroke="#777777" stroke-width="1"/>
<line x1="89.85" y1="758.00" x2="89.85" y2="755.50" stroke="#5a5a5a" stroke-width="1"/>
<line x1="87.55" y1="755.50" x2="92.15" y2="755.50" stroke="#5a5a5a" stroke-width="1.1"/>
<rect x="83.00" y="758.00" width="13.70" height="12.50" fill="#a6d7f3" stroke="#56646f" stroke-width="1"/>
<line x1="112.60" y1="760.00" x2="112.60" y2="756.30" stroke="#5a5a5a" stroke-width="1"/>
<line x1="110.30" y1="756.30" x2="114.90" y2="756.30" stroke="#5a5a5a" stroke-width="1.1"/>
<rect x="105.50" y="760.00" width="14.20" height="10.50" fill="#0889d2" stroke="#1c5078" stroke-width="1"/>
<line x1="146.70" y1="666.00" x2="146.70" y2="656.30" stroke="#5a5a5a" stroke-width="1"/>
<line x1="144.40" y1="656.30" x2="149.00" y2="656.30" stroke="#5a5a5a" stroke-width="1.1"/>
<rect x="139.70" y="666.00" width="14.00" height="104.50" fill="#ffffff" stroke="#777777" stroke-width="1"/>
<line x1="169.60" y1="655.50" x2="169.60" y2="639.50" stroke="#5a5a5a" stroke-width="1"/>
<line x1="167.30" y1="639.50" x2="171.90" y2="639.50" stroke="#5a5a5a" stroke-width="1.1"/>
<rect x="162.50" y="655.50" width="14.20" height="115.00" fill="#a6d7f3" stroke="#56646f" stroke-width="1"/>
<line x1="192.05" y1="707.70" x2="192.05" y2="698.30" stroke="#5a5a5a" stroke-width="1"/>
<line x1="189.75" y1="698.30" x2="194.35" y2="698.30" stroke="#5a5a5a" stroke-width="1.1"/>
<rect x="185.30" y="707.70" width="13.50" height="62.80" fill="#0889d2" stroke="#1c5078" stroke-width="1"/>
<path d="M93.30,622.50V620.50H168.30V622.50" fill="none" stroke="#7a7a7a" stroke-width="1"/>
<path d="M127.85,615.50L128.37,616.69L129.66,616.81L128.69,617.67L128.97,618.94L127.85,618.28L126.73,618.94L127.01,617.67L126.04,616.81L127.33,616.69ZM132.00,615.50L132.52,616.69L133.81,616.81L132.84,617.67L133.12,618.94L132.00,618.28L130.88,618.94L131.16,617.67L130.19,616.81L131.48,616.69ZM136.15,615.50L136.67,616.69L137.96,616.81L136.99,617.67L137.27,618.94L136.15,618.28L135.03,618.94L135.31,617.67L134.34,616.81L135.63,616.69Z" fill="#3a3a3a" stroke="#3a3a3a" stroke-width="0.2" stroke-linejoin="round"/>
<path d="M72.00,631.20V629.20H148.30V631.20" fill="none" stroke="#7a7a7a" stroke-width="1"/>
<path d="M105.05,623.50L105.57,624.69L106.86,624.81L105.89,625.67L106.17,626.94L105.05,626.28L103.93,626.94L104.21,625.67L103.24,624.81L104.53,624.69ZM109.20,623.50L109.72,624.69L111.01,624.81L110.04,625.67L110.32,626.94L109.20,626.28L108.08,626.94L108.36,625.67L107.39,624.81L108.68,624.69ZM113.35,623.50L113.87,624.69L115.16,624.81L114.19,625.67L114.47,626.94L113.35,626.28L112.23,626.94L112.51,625.67L111.54,624.81L112.83,624.69Z" fill="#3a3a3a" stroke="#3a3a3a" stroke-width="0.2" stroke-linejoin="round"/>
<path d="M170.30,630.70V628.70H192.50V630.70" fill="none" stroke="#7a7a7a" stroke-width="1"/>
<path d="M178.35,624.20L178.87,625.39L180.16,625.51L179.19,626.37L179.47,627.64L178.35,626.98L177.23,627.64L177.51,626.37L176.54,625.51L177.83,625.39ZM182.50,624.20L183.02,625.39L184.31,625.51L183.34,626.37L183.62,627.64L182.50,626.98L181.38,627.64L181.66,626.37L180.69,625.51L181.98,625.39ZM186.65,624.20L187.17,625.39L188.46,625.51L187.49,626.37L187.77,627.64L186.65,626.98L185.53,627.64L185.81,626.37L184.84,625.51L186.13,625.39Z" fill="#3a3a3a" stroke="#3a3a3a" stroke-width="0.2" stroke-linejoin="round"/>
<line x1="65.80" y1="746.30" x2="115.50" y2="746.30" stroke="#7a7a7a" stroke-width="1"/>
<text x="90.80" y="744.60" text-anchor="middle" stroke="#2e2e2e" stroke-width="0.18" font-size="10" fill="#2e2e2e">ns</text>
<text x="82.30" y="785.60" text-anchor="start" stroke="#2e2e2e" stroke-width="0.18" font-size="10.7" fill="#2e2e2e">Control</text>
<text x="160.70" y="785.50" text-anchor="start" stroke="#2e2e2e" stroke-width="0.18" font-size="10.3" fill="#2e2e2e">ST</text>
<text transform="translate(9.60,697.60) rotate(-90)" text-anchor="middle" stroke="#2e2e2e" stroke-width="0.18" font-size="11.92" fill="#2e2e2e">Myh7/Myh6 mRNA levels</text>
<text transform="translate(22.90,696.90) rotate(-90)" text-anchor="middle" stroke="#2e2e2e" stroke-width="0.18" font-size="12.0" fill="#2e2e2e">(normalized to GAPDH)</text>
<text x="10.10" y="600.90" text-anchor="start" stroke="#2e2e2e" stroke-width="0.6" font-size="16.3" fill="#2e2e2e">f</text>
<line x1="286.70" y1="617.00" x2="286.70" y2="770.80" stroke="#8a8a8a" stroke-width="1"/>
<line x1="286.20" y1="770.80" x2="440.70" y2="770.80" stroke="#8a8a8a" stroke-width="1"/>
<line x1="286.70" y1="770.80" x2="289.10" y2="770.80" stroke="#555555" stroke-width="1.1"/>
<text transform="translate(285.35,773.10) scale(1.0,1)" x="0" y="0" text-anchor="end" stroke="#2e2e2e" stroke-width="0.18" font-size="9.7" fill="#2e2e2e">0</text>
<line x1="286.70" y1="745.85" x2="289.10" y2="745.85" stroke="#555555" stroke-width="1.1"/>
<g transform="translate(285.35,748.14) scale(1.0,1)"><text id="k13" class="fx" x="0" y="0" text-anchor="end" stroke="#2e2e2e" stroke-width="0.18" font-size="9.7" fill="#2e2e2e"> </text><path transform="translate(-5.391,0.000) scale(0.004736,-0.004736)" d="M763 0H583V1147Q518 1085 412.5 1023T223 930V1104Q374 1175 487 1276T647 1472H763V0Z" fill="#2e2e2e" stroke="#2e2e2e" stroke-width="38.0"/></g>
<line x1="286.70" y1="720.90" x2="289.10" y2="720.90" stroke="#555555" stroke-width="1.1"/>
<text transform="translate(285.35,723.20) scale(1.0,1)" x="0" y="0" text-anchor="end" stroke="#2e2e2e" stroke-width="0.18" font-size="9.7" fill="#2e2e2e">2</text>
<line x1="286.70" y1="695.95" x2="289.10" y2="695.95" stroke="#555555" stroke-width="1.1"/>
<text transform="translate(285.35,698.25) scale(1.0,1)" x="0" y="0" text-anchor="end" stroke="#2e2e2e" stroke-width="0.18" font-size="9.7" fill="#2e2e2e">3</text>
<line x1="286.70" y1="671.00" x2="289.10" y2="671.00" stroke="#555555" stroke-width="1.1"/>
<text transform="translate(285.35,673.30) scale(1.0,1)" x="0" y="0" text-anchor="end" stroke="#2e2e2e" stroke-width="0.18" font-size="9.7" fill="#2e2e2e">4</text>
<line x1="286.70" y1="646.05" x2="289.10" y2="646.05" stroke="#555555" stroke-width="1.1"/>
<text transform="translate(285.35,648.35) scale(1.0,1)" x="0" y="0" text-anchor="end" stroke="#2e2e2e" stroke-width="0.18" font-size="9.7" fill="#2e2e2e">5</text>
<line x1="308.75" y1="746.90" x2="308.75" y2="744.50" stroke="#5a5a5a" stroke-width="1"/>
<line x1="306.45" y1="744.50" x2="311.05" y2="744.50" stroke="#5a5a5a" stroke-width="1.1"/>
<rect x="301.70" y="746.90" width="14.10" height="23.90" fill="#ffffff" stroke="#777777" stroke-width="1"/>
<line x1="330.85" y1="746.50" x2="330.85" y2="744.20" stroke="#5a5a5a" stroke-width="1"/>
<line x1="328.55" y1="744.20" x2="333.15" y2="744.20" stroke="#5a5a5a" stroke-width="1.1"/>
<rect x="324.20" y="746.50" width="13.30" height="24.30" fill="#a6d7f3" stroke="#56646f" stroke-width="1"/>
<line x1="352.85" y1="746.90" x2="352.85" y2="745.50" stroke="#5a5a5a" stroke-width="1"/>
<line x1="350.55" y1="745.50" x2="355.15" y2="745.50" stroke="#5a5a5a" stroke-width="1.1"/>
<rect x="346.20" y="746.90" width="13.30" height="23.90" fill="#0889d2" stroke="#1c5078" stroke-width="1"/>
<line x1="385.60" y1="660.70" x2="385.60" y2="649.30" stroke="#5a5a5a" stroke-width="1"/>
<line x1="383.30" y1="649.30" x2="387.90" y2="649.30" stroke="#5a5a5a" stroke-width="1.1"/>
<rect x="378.70" y="660.70" width="13.80" height="110.10" fill="#ffffff" stroke="#777777" stroke-width="1"/>
<line x1="407.35" y1="657.40" x2="407.35" y2="640.00" stroke="#5a5a5a" stroke-width="1"/>
<line x1="405.05" y1="640.00" x2="409.65" y2="640.00" stroke="#5a5a5a" stroke-width="1.1"/>
<rect x="400.50" y="657.40" width="13.70" height="113.40" fill="#a6d7f3" stroke="#56646f" stroke-width="1"/>
<line x1="429.40" y1="714.00" x2="429.40" y2="700.80" stroke="#5a5a5a" stroke-width="1"/>
<line x1="427.10" y1="700.80" x2="431.70" y2="700.80" stroke="#5a5a5a" stroke-width="1.1"/>
<rect x="422.80" y="714.00" width="13.20" height="56.80" fill="#0889d2" stroke="#1c5078" stroke-width="1"/>
<path d="M330.50,624.40V622.20H405.80V624.40" fill="none" stroke="#7a7a7a" stroke-width="1"/>
<path d="M365.05,618.00L365.57,619.19L366.86,619.31L365.89,620.17L366.17,621.44L365.05,620.78L363.93,621.44L364.21,620.17L363.24,619.31L364.53,619.19ZM369.20,618.00L369.72,619.19L371.01,619.31L370.04,620.17L370.32,621.44L369.20,620.78L368.08,621.44L368.36,620.17L367.39,619.31L368.68,619.19ZM373.35,618.00L373.87,619.19L375.16,619.31L374.19,620.17L374.47,621.44L373.35,620.78L372.23,621.44L372.51,620.17L371.54,619.31L372.83,619.19Z" fill="#3a3a3a" stroke="#3a3a3a" stroke-width="0.2" stroke-linejoin="round"/>
<path d="M309.20,633.30V631.20H385.50V633.30" fill="none" stroke="#7a7a7a" stroke-width="1"/>
<path d="M342.05,626.00L342.57,627.19L343.86,627.31L342.89,628.17L343.17,629.44L342.05,628.78L340.93,629.44L341.21,628.17L340.24,627.31L341.53,627.19ZM346.20,626.00L346.72,627.19L348.01,627.31L347.04,628.17L347.32,629.44L346.20,628.78L345.08,629.44L345.36,628.17L344.39,627.31L345.68,627.19ZM350.35,626.00L350.87,627.19L352.16,627.31L351.19,628.17L351.47,629.44L350.35,628.78L349.23,629.44L349.51,628.17L348.54,627.31L349.83,627.19Z" fill="#3a3a3a" stroke="#3a3a3a" stroke-width="0.2" stroke-linejoin="round"/>
<path d="M407.20,633.00V630.80H429.70V633.00" fill="none" stroke="#7a7a7a" stroke-width="1"/>
<path d="M415.35,626.70L415.87,627.89L417.16,628.01L416.19,628.87L416.47,630.14L415.35,629.48L414.23,630.14L414.51,628.87L413.54,628.01L414.83,627.89ZM419.50,626.70L420.02,627.89L421.31,628.01L420.34,628.87L420.62,630.14L419.50,629.48L418.38,630.14L418.66,628.87L417.69,628.01L418.98,627.89ZM423.65,626.70L424.17,627.89L425.46,628.01L424.49,628.87L424.77,630.14L423.65,629.48L422.53,630.14L422.81,628.87L421.84,628.01L423.13,627.89Z" fill="#3a3a3a" stroke="#3a3a3a" stroke-width="0.2" stroke-linejoin="round"/>
<line x1="305.80" y1="735.40" x2="355.50" y2="735.40" stroke="#7a7a7a" stroke-width="1"/>
<text x="330.80" y="733.70" text-anchor="middle" stroke="#2e2e2e" stroke-width="0.18" font-size="10" fill="#2e2e2e">ns</text>
<text x="323.30" y="785.80" text-anchor="start" stroke="#2e2e2e" stroke-width="0.18" font-size="10.7" fill="#2e2e2e">Control</text>
<text x="400.30" y="785.50" text-anchor="start" stroke="#2e2e2e" stroke-width="0.18" font-size="10.3" fill="#2e2e2e">ST</text>
<text transform="translate(246.50,697.80) rotate(-90)" text-anchor="middle" stroke="#2e2e2e" stroke-width="0.18" font-size="11.95" fill="#2e2e2e">Nppa mRNA levels</text>
<text transform="translate(260.50,697.85) rotate(-90)" text-anchor="middle" stroke="#2e2e2e" stroke-width="0.18" font-size="11.95" fill="#2e2e2e">(normalized to GAPDH)</text>
<line x1="504.70" y1="616.70" x2="504.70" y2="770.80" stroke="#8a8a8a" stroke-width="1"/>
<line x1="504.20" y1="770.80" x2="659.20" y2="770.80" stroke="#8a8a8a" stroke-width="1"/>
<line x1="504.70" y1="770.80" x2="507.10" y2="770.80" stroke="#555555" stroke-width="1.1"/>
<text transform="translate(503.45,773.10) scale(1.0,1)" x="0" y="0" text-anchor="end" stroke="#2e2e2e" stroke-width="0.18" font-size="9.7" fill="#2e2e2e">0</text>
<line x1="504.70" y1="745.85" x2="507.10" y2="745.85" stroke="#555555" stroke-width="1.1"/>
<g transform="translate(503.45,748.14) scale(1.0,1)"><text id="k14" class="fx" x="0" y="0" text-anchor="end" stroke="#2e2e2e" stroke-width="0.18" font-size="9.7" fill="#2e2e2e"> </text><path transform="translate(-5.391,0.000) scale(0.004736,-0.004736)" d="M763 0H583V1147Q518 1085 412.5 1023T223 930V1104Q374 1175 487 1276T647 1472H763V0Z" fill="#2e2e2e" stroke="#2e2e2e" stroke-width="38.0"/></g>
<line x1="504.70" y1="720.90" x2="507.10" y2="720.90" stroke="#555555" stroke-width="1.1"/>
<text transform="translate(503.45,723.20) scale(1.0,1)" x="0" y="0" text-anchor="end" stroke="#2e2e2e" stroke-width="0.18" font-size="9.7" fill="#2e2e2e">2</text>
<line x1="504.70" y1="695.95" x2="507.10" y2="695.95" stroke="#555555" stroke-width="1.1"/>
<text transform="translate(503.45,698.25) scale(1.0,1)" x="0" y="0" text-anchor="end" stroke="#2e2e2e" stroke-width="0.18" font-size="9.7" fill="#2e2e2e">3</text>
<line x1="504.70" y1="671.00" x2="507.10" y2="671.00" stroke="#555555" stroke-width="1.1"/>
<text transform="translate(503.45,673.30) scale(1.0,1)" x="0" y="0" text-anchor="end" stroke="#2e2e2e" stroke-width="0.18" font-size="9.7" fill="#2e2e2e">4</text>
<line x1="504.70" y1="646.05" x2="507.10" y2="646.05" stroke="#555555" stroke-width="1.1"/>
<text transform="translate(503.45,648.35) scale(1.0,1)" x="0" y="0" text-anchor="end" stroke="#2e2e2e" stroke-width="0.18" font-size="9.7" fill="#2e2e2e">5</text>
<line x1="526.75" y1="747.40" x2="526.75" y2="744.60" stroke="#5a5a5a" stroke-width="1"/>
<line x1="524.45" y1="744.60" x2="529.05" y2="744.60" stroke="#5a5a5a" stroke-width="1.1"/>
<rect x="519.80" y="747.40" width="13.90" height="23.40" fill="#ffffff" stroke="#777777" stroke-width="1"/>
<line x1="548.65" y1="746.90" x2="548.65" y2="744.20" stroke="#5a5a5a" stroke-width="1"/>
<line x1="546.35" y1="744.20" x2="550.95" y2="744.20" stroke="#5a5a5a" stroke-width="1.1"/>
<rect x="541.80" y="746.90" width="13.70" height="23.90" fill="#a6d7f3" stroke="#56646f" stroke-width="1"/>
<line x1="570.75" y1="747.40" x2="570.75" y2="745.70" stroke="#5a5a5a" stroke-width="1"/>
<line x1="568.45" y1="745.70" x2="573.05" y2="745.70" stroke="#5a5a5a" stroke-width="1.1"/>
<rect x="563.90" y="747.40" width="13.70" height="23.40" fill="#0889d2" stroke="#1c5078" stroke-width="1"/>
<line x1="603.15" y1="655.80" x2="603.15" y2="649.50" stroke="#5a5a5a" stroke-width="1"/>
<line x1="600.85" y1="649.50" x2="605.45" y2="649.50" stroke="#5a5a5a" stroke-width="1.1"/>
<rect x="596.30" y="655.80" width="13.70" height="115.00" fill="#ffffff" stroke="#777777" stroke-width="1"/>
<line x1="625.15" y1="648.80" x2="625.15" y2="640.00" stroke="#5a5a5a" stroke-width="1"/>
<line x1="622.85" y1="640.00" x2="627.45" y2="640.00" stroke="#5a5a5a" stroke-width="1.1"/>
<rect x="618.30" y="648.80" width="13.70" height="122.00" fill="#a6d7f3" stroke="#56646f" stroke-width="1"/>
<line x1="647.10" y1="703.50" x2="647.10" y2="700.90" stroke="#5a5a5a" stroke-width="1"/>
<line x1="644.80" y1="700.90" x2="649.40" y2="700.90" stroke="#5a5a5a" stroke-width="1.1"/>
<rect x="640.60" y="703.50" width="13.00" height="67.30" fill="#0889d2" stroke="#1c5078" stroke-width="1"/>
<path d="M546.70,624.00V621.70H621.70V624.00" fill="none" stroke="#7a7a7a" stroke-width="1"/>
<path d="M580.85,617.20L581.37,618.39L582.66,618.51L581.69,619.37L581.97,620.64L580.85,619.98L579.73,620.64L580.01,619.37L579.04,618.51L580.33,618.39ZM585.00,617.20L585.52,618.39L586.81,618.51L585.84,619.37L586.12,620.64L585.00,619.98L583.88,620.64L584.16,619.37L583.19,618.51L584.48,618.39ZM589.15,617.20L589.67,618.39L590.96,618.51L589.99,619.37L590.27,620.64L589.15,619.98L588.03,620.64L588.31,619.37L587.34,618.51L588.63,618.39Z" fill="#3a3a3a" stroke="#3a3a3a" stroke-width="0.2" stroke-linejoin="round"/>
<path d="M525.50,632.60V630.40H601.70V632.60" fill="none" stroke="#7a7a7a" stroke-width="1"/>
<path d="M558.35,625.00L558.87,626.19L560.16,626.31L559.19,627.17L559.47,628.44L558.35,627.78L557.23,628.44L557.51,627.17L556.54,626.31L557.83,626.19ZM562.50,625.00L563.02,626.19L564.31,626.31L563.34,627.17L563.62,628.44L562.50,627.78L561.38,628.44L561.66,627.17L560.69,626.31L561.98,626.19ZM566.65,625.00L567.17,626.19L568.46,626.31L567.49,627.17L567.77,628.44L566.65,627.78L565.53,628.44L565.81,627.17L564.84,626.31L566.13,626.19Z" fill="#3a3a3a" stroke="#3a3a3a" stroke-width="0.2" stroke-linejoin="round"/>
<path d="M623.30,632.50V630.30H645.80V632.50" fill="none" stroke="#7a7a7a" stroke-width="1"/>
<path d="M631.65,626.00L632.17,627.19L633.46,627.31L632.49,628.17L632.77,629.44L631.65,628.78L630.53,629.44L630.81,628.17L629.84,627.31L631.13,627.19ZM635.80,626.00L636.32,627.19L637.61,627.31L636.64,628.17L636.92,629.44L635.80,628.78L634.68,629.44L634.96,628.17L633.99,627.31L635.28,627.19ZM639.95,626.00L640.47,627.19L641.76,627.31L640.79,628.17L641.07,629.44L639.95,628.78L638.83,629.44L639.11,628.17L638.14,627.31L639.43,627.19Z" fill="#3a3a3a" stroke="#3a3a3a" stroke-width="0.2" stroke-linejoin="round"/>
<line x1="523.00" y1="739.40" x2="572.70" y2="739.40" stroke="#7a7a7a" stroke-width="1"/>
<text x="548.50" y="737.70" text-anchor="middle" stroke="#2e2e2e" stroke-width="0.18" font-size="10" fill="#2e2e2e">ns</text>
<text x="541.30" y="785.50" text-anchor="start" stroke="#2e2e2e" stroke-width="0.18" font-size="10.7" fill="#2e2e2e">Control</text>
<text x="618.30" y="785.50" text-anchor="start" stroke="#2e2e2e" stroke-width="0.18" font-size="10.3" fill="#2e2e2e">ST</text>
<text transform="translate(465.00,697.80) rotate(-90)" text-anchor="middle" stroke="#2e2e2e" stroke-width="0.18" font-size="11.9" fill="#2e2e2e">BNP mRNA levels</text>
<text transform="translate(478.00,698.00) rotate(-90)" text-anchor="middle" stroke="#2e2e2e" stroke-width="0.18" font-size="11.95" fill="#2e2e2e">(normalized to GAPDH)</text>
<g><path d="M155.6,392.2 L157.6,389.9 L176.8,389.9 L179.2,391.6 L179.2,397.4 L177.5,398.4 L157.2,398.4 L155.6,396.8 Z" fill="#f3f3f3" stroke="#9a9a9a" stroke-width="0.8"/><path d="M156.2,392.3 L178.8,392.3" stroke="#a8a8a8" stroke-width="0.8"/><rect x="157.5" y="393.4" width="20.5" height="3.6" fill="#e2e2e2"/><path d="M179.2,391.9 L180.6,392.6 L180.6,396.2 L179.2,397" fill="#bbb" stroke="#999" stroke-width="0.5"/><rect x="180.2" y="391.8" width="4.8" height="5.0" rx="0.8" fill="#2c2c2c"/></g>
</svg>
</body></html>
